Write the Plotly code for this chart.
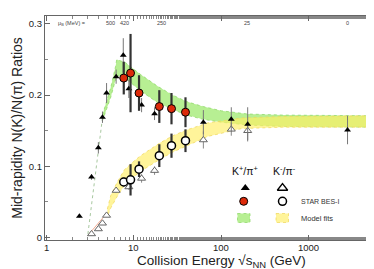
import numpy as np
import plotly.graph_objects as go

# ---------------- data ----------------
# K+/pi+ world data (filled triangles)
kp_e   = [2.4, 3.3, 3.95, 4.4, 4.9, 6.3, 7.6, 8.8, 12.3, 17.3, 62.4, 130, 200, 2760]
kp_v   = [0.030, 0.085, 0.126, 0.169, 0.203, 0.226, 0.256, 0.209, 0.186, 0.174, 0.162, 0.166, 0.159, 0.151]
kp_err = [0.002, 0.004, 0.008, 0.008, 0.014, 0.010, 0.024, 0.013, 0.010, 0.009, 0.017, 0.017, 0.024, 0.020]

# K-/pi- world data (open triangles)
km_e   = [3.3, 3.95, 4.4, 4.9, 6.3, 8.8, 12.3, 17.3, 62.4, 130, 200]
km_v   = [0.005, 0.012, 0.020, 0.031, 0.066, 0.071, 0.083, 0.094, 0.137, 0.152, 0.150]
km_err = [0.001, 0.001, 0.002, 0.002, 0.003, 0.004, 0.006, 0.006, 0.012, 0.009, 0.013]

# STAR BES-I
bes_e      = [7.7, 9.2, 11.5, 19.6, 27, 39]
bes_kp     = [0.224, 0.231, 0.203, 0.184, 0.181, 0.176]
bes_kp_err = [0.023, 0.055, 0.025, 0.023, 0.022, 0.021]
bes_km     = [0.078, 0.081, 0.096, 0.115, 0.129, 0.136]
bes_km_err = [0.006, 0.022, 0.011, 0.016, 0.017, 0.016]

# model fit bands
g_e  = [4.4, 5.5, 6.2, 6.4, 8, 10, 12, 19, 28, 40, 62, 100, 200, 500, 5500]
g_up = [0.172, 0.212, 0.240, 0.250, 0.246, 0.237, 0.229, 0.212, 0.200, 0.191, 0.184, 0.178, 0.1735, 0.172, 0.171]
g_lo = [0.164, 0.198, 0.222, 0.228, 0.224, 0.214, 0.206, 0.189, 0.180, 0.172, 0.166, 0.162, 0.158, 0.156, 0.155]
y_e  = [5.0, 5.5, 6.5, 7.8, 10, 12, 20, 28, 40, 70, 170, 500, 5500]
y_up = [0.040, 0.060, 0.078, 0.095, 0.107, 0.115, 0.133, 0.143, 0.151, 0.161, 0.168, 0.170, 0.171]
y_lo = [0.030, 0.042, 0.058, 0.073, 0.085, 0.093, 0.110, 0.120, 0.129, 0.142, 0.153, 0.155, 0.155]
g_dash_e = [3.0, 4.4]
g_dash_v = [0.005, 0.168]
y_dash_e = [3.0, 5.0]
y_dash_v = [0.003, 0.035]

# baryon chemical potential labels (top)
mub_e   = [5.5, 7.9, 20.5, 196, 2730]
mub_lab = ["500", "420", "250", "25", "0"]

x_ticks = [1, 10, 100, 1000]
y_ticks = [0, 0.1, 0.2, 0.3]

# ---------------- figure ----------------
fig = go.Figure()

# bands
fig.add_trace(go.Scatter(x=g_e + g_e[::-1], y=g_up + g_lo[::-1], fill="toself",
                         fillcolor="rgba(165,235,120,0.8)",
                         line=dict(color="rgba(140,215,100,0.9)", width=0.8, dash="dot"),
                         mode="lines", hoverinfo="skip", showlegend=False))
fig.add_trace(go.Scatter(x=y_e + y_e[::-1], y=y_up + y_lo[::-1], fill="toself",
                         fillcolor="rgba(255,238,100,0.65)",
                         line=dict(color="rgba(240,215,90,0.9)", width=0.8, dash="dot"),
                         mode="lines", hoverinfo="skip", showlegend=False))
fig.add_trace(go.Scatter(x=g_dash_e, y=g_dash_v, mode="lines",
                         line=dict(color="#a8c8a0", width=1, dash="dot"), showlegend=False))
fig.add_trace(go.Scatter(x=y_dash_e, y=y_dash_v, mode="lines",
                         line=dict(color="#f2aa90", width=1), showlegend=False))

# world data
fig.add_trace(go.Scatter(x=km_e, y=km_v, mode="markers",
                         error_y=dict(type="data", array=km_err, color="#888", thickness=1, width=0),
                         marker=dict(symbol="triangle-up", size=7, color="white",
                                     line=dict(color="#666", width=1)), showlegend=False))
fig.add_trace(go.Scatter(x=kp_e, y=kp_v, mode="markers",
                         error_y=dict(type="data", array=kp_err, color="#777", thickness=1, width=0),
                         marker=dict(symbol="triangle-up", size=6, color="black"), showlegend=False))

# STAR BES-I
fig.add_trace(go.Scatter(x=bes_e, y=bes_km, mode="markers",
                         error_y=dict(type="data", array=bes_km_err, color="#333", thickness=2.2, width=0),
                         marker=dict(symbol="circle", size=8, color="white",
                                     line=dict(color="black", width=1.5)), showlegend=False))
fig.add_trace(go.Scatter(x=bes_e, y=bes_kp, mode="markers",
                         error_y=dict(type="data", array=bes_kp_err, color="#333", thickness=2.2, width=0),
                         marker=dict(symbol="circle", size=8, color="#dd2a0a",
                                     line=dict(color="black", width=1)), showlegend=False))

# legend symbols on a pixel-space overlay axis
leg_x = [237.3, 274.5, 235.7, 274.5]
leg_y = [180, 180, 193.3, 193.3]
fig.add_trace(go.Scatter(x=leg_x[:1], y=leg_y[:1], xaxis="x2", yaxis="y2", mode="markers",
                         marker=dict(symbol="triangle-up", size=8, color="black"), showlegend=False))
fig.add_trace(go.Scatter(x=leg_x[1:2], y=leg_y[1:2], xaxis="x2", yaxis="y2", mode="markers",
                         marker=dict(symbol="triangle-up", size=9, color="white",
                                     line=dict(color="black", width=1.3)), showlegend=False))
fig.add_trace(go.Scatter(x=leg_x[2:3], y=leg_y[2:3], xaxis="x2", yaxis="y2", mode="markers",
                         marker=dict(symbol="circle", size=8, color="#dd2a0a",
                                     line=dict(color="black", width=1)), showlegend=False))
fig.add_trace(go.Scatter(x=leg_x[3:4], y=leg_y[3:4], xaxis="x2", yaxis="y2", mode="markers",
                         marker=dict(symbol="circle", size=8, color="white",
                                     line=dict(color="black", width=1.5)), showlegend=False))

shapes = [
    dict(type="rect", xref="x2", yref="y2", x0=229.5, x1=242, y0=205.5, y1=214.5,
         fillcolor="rgba(165,235,120,0.8)", line=dict(color="rgba(140,215,100,0.9)", width=0.8, dash="dot")),
    dict(type="rect", xref="x2", yref="y2", x0=268, x1=280.5, y0=205.5, y1=214.5,
         fillcolor="rgba(255,238,100,0.65)", line=dict(color="rgba(240,215,90,0.9)", width=0.8, dash="dot")),
]

font = "Liberation Sans, Arial, sans-serif"
ann = [
    dict(x=237.3, y=162.3, xref="x2", yref="y2", text="K<sup>+</sup>/π<sup>+</sup>",
         showarrow=False, font=dict(size=10.5, color="#111", family=font)),
    dict(x=276, y=162.3, xref="x2", yref="y2", text="K<sup>-</sup>/π<sup>-</sup>",
         showarrow=False, font=dict(size=10.5, color="#111", family=font)),
    dict(x=291, y=193.3, xref="x2", yref="y2", text="STAR BES-I", xanchor="left",
         showarrow=False, font=dict(size=7, color="#333", family=font)),
    dict(x=291, y=210, xref="x2", yref="y2", text="Model fits", xanchor="left",
         showarrow=False, font=dict(size=7.5, color="#333", family=font)),
    dict(x=48, y=15, xref="x2", yref="y2", text="μ<sub>B</sub> (MeV) =", xanchor="left",
         showarrow=False, font=dict(size=5.5, color="#444", family=font)),
    dict(x=(213 - 37) / 334, y=(232 - 253) / 224, xref="paper", yref="paper",
         text="Collision Energy √s<sub>NN</sub> (GeV)", showarrow=False, yanchor="middle",
         borderpad=0, font=dict(size=13.5, color="#222", family=font)),
]
# x tick labels (placed just under the axis)
for v in x_ticks:
    ann.append(dict(x=np.log10(v), y=(232 - 239.5) / 224, xref="x", yref="paper", text=str(v),
                    showarrow=False, yanchor="middle", borderpad=0,
                    font=dict(size=9.5, color="#222", family=font)))
for e, lab in zip(mub_e, mub_lab):
    ann.append(dict(x=np.log10(e), y=15, xref="x", yref="y2", text=lab, showarrow=False,
                    font=dict(size=5.5, color="#444", family=font)))

fig.update_layout(
    width=374, height=269,
    margin=dict(l=37, r=3, t=8, b=37),
    paper_bgcolor="white", plot_bgcolor="white",
    font=dict(family=font, color="#222"),
    shapes=shapes, annotations=ann,
    xaxis=dict(type="log", range=[-0.0126, 3.80], tickvals=x_ticks, showticklabels=False,
               showline=True, linecolor="#666", linewidth=1.3, mirror="ticks",
               ticks="inside", ticklen=5, tickcolor="#666",
               minor=dict(ticks="inside", ticklen=2.5, tickcolor="#888", showgrid=False),
               showgrid=False, zeroline=False),
    yaxis=dict(range=[-0.0035, 0.3112], tickvals=y_ticks, ticktext=["0", "0.1", "0.2", "0.3"],
               showline=True, linecolor="#666", linewidth=1.3, mirror="ticks",
               ticks="inside", ticklen=5, tickcolor="#666",
               minor=dict(ticks="inside", ticklen=2.5, dtick=0.05, tickcolor="#888", showgrid=False),
               showgrid=False, zeroline=False, tickfont=dict(size=9.5, color="#222"),
               title=dict(text="Mid-rapidity N(K)/N(π) Ratios", font=dict(size=14, color="#222"),
                          standoff=2)),
    xaxis2=dict(overlaying="x", range=[37, 371], visible=False, fixedrange=True),
    yaxis2=dict(overlaying="y", range=[232, 8], visible=False, fixedrange=True),
)

fig.write_html("out.html")
